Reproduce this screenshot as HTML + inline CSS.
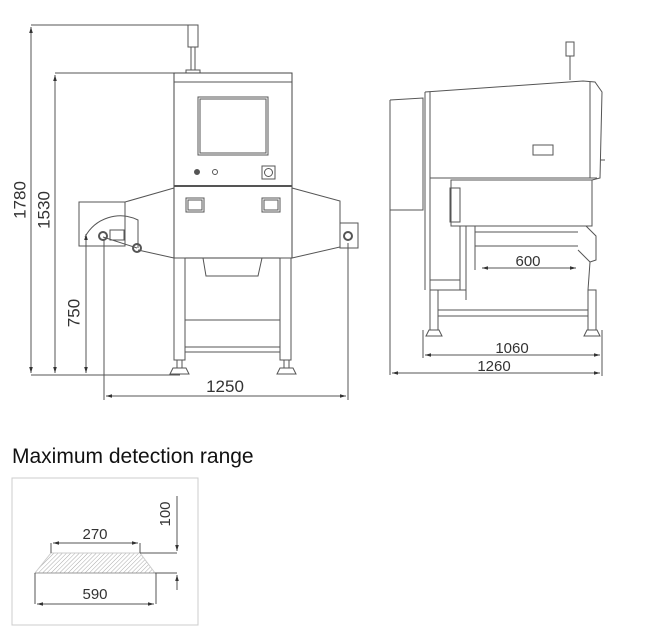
<!DOCTYPE html>
<html><head><meta charset="utf-8"><style>
body{margin:0;background:#fff;width:646px;height:641px;overflow:hidden}
svg{display:block}
text{font-family:"Liberation Sans",sans-serif;fill:#333}
</style></head><body>
<svg width="646" height="641" viewBox="0 0 646 641" xmlns="http://www.w3.org/2000/svg">
<defs>
<marker id="a" viewBox="0 0 10 10" refX="10" refY="5" markerWidth="6" markerHeight="6" orient="auto-start-reverse"><path d="M0,2 L10,5 L0,8z" fill="#333"/></marker>
<pattern id="h" width="3" height="3" patternUnits="userSpaceOnUse" patternTransform="rotate(45)"><line x1="0" y1="0" x2="0" y2="3" stroke="#aaa" stroke-width="1"/></pattern>
</defs>
<g stroke="#555" stroke-width="1" fill="none">
<line x1="31" y1="25" x2="198" y2="25"/>
<line x1="31" y1="27" x2="31" y2="373" marker-start="url(#a)" marker-end="url(#a)"/>
<line x1="55" y1="73" x2="174" y2="73"/>
<line x1="55" y1="75" x2="55" y2="373" marker-start="url(#a)" marker-end="url(#a)"/>
<line x1="86" y1="234" x2="86" y2="373" marker-start="url(#a)" marker-end="url(#a)"/>
<line x1="31" y1="375" x2="180" y2="375"/>
<line x1="104" y1="240" x2="104" y2="400"/>
<line x1="348" y1="243" x2="348" y2="400"/>
<line x1="106" y1="396" x2="346" y2="396" marker-start="url(#a)" marker-end="url(#a)"/>
<rect x="188" y="25" width="10" height="22"/>
<line x1="191" y1="47" x2="191" y2="70"/><line x1="195" y1="47" x2="195" y2="70"/>
<rect x="186" y="70" width="14" height="3"/>
<rect x="174" y="73" width="118" height="185" stroke="#444"/>
<line x1="174" y1="82" x2="292" y2="82"/>
<line x1="174" y1="186" x2="292" y2="186" stroke-width="2"/>
<rect x="198" y="97" width="70" height="58"/>
<rect x="200" y="99" width="66" height="54"/>
<circle cx="197" cy="172" r="2.5" fill="#555"/>
<circle cx="215" cy="172" r="2.5"/>
<rect x="262" y="166" width="13" height="13"/><circle cx="268.5" cy="172.5" r="4"/>
<rect x="186" y="198" width="18" height="14"/><rect x="188" y="200" width="14" height="10"/>
<rect x="262" y="198" width="18" height="14"/><rect x="264" y="200" width="14" height="10"/>
<path d="M174,188 L125,202 L125,232"/>
<path d="M138,250 L174,258"/>
<path d="M292,188 L340,201 L340,247 L292,258"/>
<rect x="79" y="202" width="46" height="44"/>
<rect x="340" y="223" width="18" height="25"/>
<path d="M85,237 A40,40 0 0 1 138,220 L138,248"/>
<line x1="103" y1="237" x2="137" y2="248"/>
<circle cx="103" cy="236" r="4" stroke-width="2"/>
<circle cx="137" cy="248" r="4" stroke-width="2"/>
<circle cx="348" cy="236" r="4" stroke-width="2"/>
<rect x="110" y="230" width="14" height="10"/>
<path d="M203,258 L206,276 L258,276 L262,258"/>
<rect x="174" y="258" width="11" height="102"/>
<rect x="280" y="258" width="11" height="102"/>
<line x1="185" y1="320" x2="280" y2="320"/>
<line x1="185" y1="347" x2="280" y2="347"/><line x1="185" y1="352" x2="280" y2="352"/>
<path d="M177,360 L177,368 M182,360 L182,368 M170,374 L173,368 L186,368 L189,374z"/>
<path d="M284,360 L284,368 M289,360 L289,368 M277,374 L280,368 L293,368 L296,374z"/>
<line x1="390" y1="100" x2="390" y2="375"/>
<path d="M390,100 L423,98 L423,210 L390,210"/>
<path d="M425,92 L583,81 L595,82 L602,92 L600,178 L592,180"/>
<line x1="425" y1="92" x2="425" y2="290"/>
<line x1="430" y1="92" x2="430" y2="290"/>
<line x1="590" y1="82" x2="590" y2="178"/>
<rect x="533" y="145" width="20" height="10"/>
<rect x="566" y="42" width="8" height="14"/><line x1="570" y1="56" x2="570" y2="80"/>
<line x1="600" y1="160" x2="605" y2="160"/>
<line x1="430" y1="178" x2="597" y2="178"/>
<rect x="451" y="180" width="141" height="46"/>
<rect x="450" y="188" width="10" height="34"/>
<line x1="460" y1="226" x2="460" y2="290"/>
<line x1="430" y1="280" x2="460" y2="280"/>
<line x1="430" y1="290" x2="466" y2="290"/>
<line x1="466" y1="226" x2="466" y2="300"/>
<line x1="475" y1="232" x2="578" y2="232"/>
<line x1="475" y1="246" x2="578" y2="246"/>
<line x1="475" y1="226" x2="475" y2="270"/>
<path d="M586,226 L596,236 L596,260 L590,262 L588,290"/>
<path d="M578,250 L590,262"/>
<line x1="482" y1="268" x2="576" y2="268" marker-start="url(#a)" marker-end="url(#a)"/>
<rect x="430" y="290" width="8" height="40"/>
<rect x="588" y="290" width="8" height="40"/>
<line x1="438" y1="310" x2="588" y2="310"/><line x1="438" y1="316" x2="588" y2="316"/>
<path d="M426,336 L429,330 L439,330 L442,336z M584,336 L587,330 L597,330 L600,336z"/>
<line x1="423" y1="330" x2="423" y2="358"/>
<line x1="602" y1="330" x2="602" y2="376"/>
<line x1="425" y1="355" x2="600" y2="355" marker-start="url(#a)" marker-end="url(#a)"/>
<line x1="392" y1="373" x2="600" y2="373" marker-start="url(#a)" marker-end="url(#a)"/>
<rect x="12" y="478" width="186" height="147" stroke="#ccc"/>
<path d="M51,553 L140,553 L155,573 L35,573z" fill="url(#h)" stroke="#ccc"/>
<line x1="35" y1="573" x2="155" y2="573" stroke="#999"/>
<line x1="51" y1="543" x2="51" y2="553"/><line x1="140" y1="543" x2="140" y2="553"/>
<line x1="53" y1="543" x2="138" y2="543" marker-start="url(#a)" marker-end="url(#a)"/>
<line x1="35" y1="573" x2="35" y2="604"/><line x1="156" y1="573" x2="156" y2="604"/>
<line x1="37" y1="604" x2="154" y2="604" marker-start="url(#a)" marker-end="url(#a)"/>
<line x1="140" y1="553" x2="177" y2="553"/><line x1="155" y1="573" x2="177" y2="573"/>
<line x1="177" y1="496" x2="177" y2="551" marker-end="url(#a)"/>
<line x1="177" y1="590" x2="177" y2="575" marker-end="url(#a)"/>
</g>
<g font-size="17">
<text x="21" y="200" text-anchor="middle" transform="rotate(-90 21 200)" dominant-baseline="middle">1780</text>
<text x="45" y="210" text-anchor="middle" transform="rotate(-90 45 210)" dominant-baseline="middle">1530</text>
<text x="75" y="313" text-anchor="middle" transform="rotate(-90 75 313)" dominant-baseline="middle">750</text>
<text x="225" y="392" text-anchor="middle">1250</text>
</g>
<g font-size="15">
<text x="528" y="266" text-anchor="middle">600</text>
<text x="512" y="353" text-anchor="middle">1060</text>
<text x="494" y="371" text-anchor="middle">1260</text>
<text x="95" y="539" text-anchor="middle">270</text>
<text x="95" y="599" text-anchor="middle">590</text>
<text x="166" y="514" text-anchor="middle" transform="rotate(-90 166 514)" dominant-baseline="middle">100</text>
</g>
<text x="12" y="463" font-size="21" style="fill:#111">Maximum detection range</text>
</svg>
</body></html>
